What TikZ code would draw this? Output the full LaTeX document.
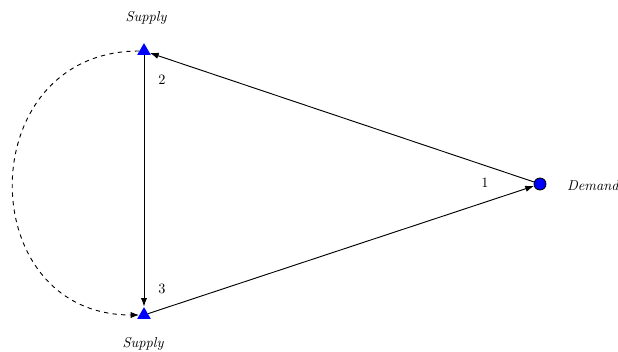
\documentclass[tikz,border=0pt]{standalone}
\usetikzlibrary{shapes.geometric,arrows.meta}
\begin{document}
\begin{tikzpicture}[x=0.7pt,y=-0.7pt,
  supply/.style={regular polygon,regular polygon sides=3,fill=blue,inner sep=0pt,minimum size=11pt},
  demandnode/.style={circle,fill=blue,draw=black,line width=0.6pt,inner sep=0pt,minimum size=8.4pt},
  lbl/.style={font=\itshape},
  num/.style={},
  conn/.style={line width=0.65pt,-{Latex[length=6pt,width=4.4pt]}}]
\useasboundingbox (0,0) rectangle (618,351);
\node[supply] (top) at (144,51) {};
\node[supply] (bot) at (144,315) {};
\node[demandnode] (dem) at (540,184) {};
\node[lbl] (ltop) at (146,18) {Supply};
\node[lbl] (lbot) at (143,344) {Supply};
\node[lbl,anchor=west] (ldem) at (562,186) {Demand};
\node[num] (n1) at (485,183) {1};
\node[num] (n2) at (162,80) {2};
\node[num] (n3) at (162,289) {3};
\draw[conn] (dem) -- (top);
\draw[conn] (top) -- (bot);
\draw[conn] (bot) -- (dem);
\draw[conn,dashed] (top.180) to[out=180,in=180,looseness=1.63] (bot.180);
\end{tikzpicture}
\end{document}
